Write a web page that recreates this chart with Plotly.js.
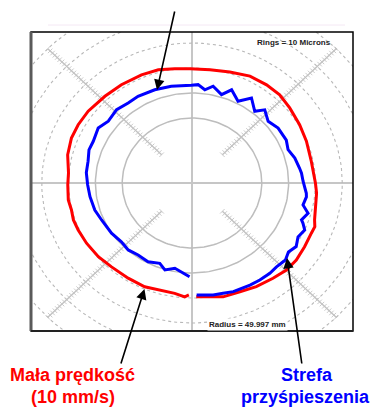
<!DOCTYPE html>
<html><head><meta charset="utf-8">
<script src="https://cdn.plot.ly/plotly-3.0.1.min.js"></script>
<style>html,body{margin:0;padding:0;background:#fff;}#chart{width:377px;height:408px;}</style>
</head><body><div id="chart"></div>
<script>
// Ring radii (microns on the plot scale, rings every 10 microns)
const ringRadii = [26, 36, 46, 56, 66, 76];
const ringDash  = ['solid', 'solid', 'dot', 'dot', 'dot', 'dot'];
// diagonal scale lines
const diagAngles = [45, 135, 225, 315];
const diagStart = 16, diagEnd = 76, diagStep = 1.25;

// Red trace: "Mała prędkość (10 mm/s)" – angle (deg, CCW from +x) and radius
const redAngle  = [-88, -81.6, -75.7, -67.7, -60, -51.6, -44.7, -38.4, -31.3, -24.3, -20.9, -17.9, -8.3, -5, 0, 11.1, 21.4, 30.2, 39.5, 47.2, 54.7, 63.2, 72.4, 81.6, 90.9, 98, 105.5, 113.5, 123.8, 133.1, 143.4, 151.2, 158.2, 166.3, 175, 180.9, 188.4, 193.5, 198.5, 203.9, 211.5, 220.2, 228.2, 238, 247, 255.1, 261.7, 266.6, 268.5];
const redRadius = [45.5, 46.0, 47.0, 47.0, 47.9, 48.6, 49.5, 49.6, 49.1, 48.8, 49.0, 48.0, 46.9, 46.6, 46.0, 45.3, 45.8, 46.4, 47.2, 48.1, 48.1, 47.9, 46.6, 45.8, 45.7, 46.1, 47.0, 47.2, 47.3, 47.5, 48.2, 48.4, 48.4, 47.7, 46.2, 46.3, 46.6, 46.2, 46.6, 46.4, 46.1, 45.7, 45.0, 44.9, 45.1, 44.3, 44.6, 45.6, 44.8];

// Blue trace: "Strefa przyśpieszenia"
const blueAngle  = [-87.8, -84.6, -80, -75.3, -70.5, -66.3, -62.1, -56.9, -51.2, -46.8, -41.5, -37.5, -33.2, -28.6, -24.1, -21.3, -19.9, -15.6, -12, -7.4, -5.5, 1, 5.5, 8.5, 14.6, 20.4, 26, 34.4, 41, 47.2, 50.8, 56.9, 62.3, 68.4, 72.7, 78.5, 82.7, 86.7, 90.4, 101.3, 110.4, 120.1, 126.6, 133.8, 141.6, 147.8, 155.6, 161, 167.3, 174, 181, 188.2, 196.6, 203.7, 213.8, 221.8, 228.4, 235.1, 242.5, 249.5, 253.8, 259.4, 263.6, 268.6];
const blueRadius = [44.8, 45.0, 45.5, 45.6, 46.1, 46.0, 46.2, 46.3, 46.3, 46.0, 46.5, 45.3, 46.4, 45.0, 46.0, 44.4, 43.4, 44.9, 42.3, 43.0, 42.8, 41.4, 41.0, 40.5, 39.6, 38.2, 39.1, 38.9, 37.6, 39.9, 37.0, 40.6, 36.9, 40.1, 37.0, 39.5, 37.6, 39.4, 39.1, 39.5, 39.8, 40.1, 39.9, 40.6, 39.8, 41.3, 40.4, 40.6, 39.7, 39.6, 38.9, 38.4, 37.8, 36.8, 36.1, 35.3, 35.8, 35.1, 35.5, 34.3, 36.2, 34.7, 35.7, 37.5];

const rad = d => d * Math.PI / 180;
const toX = (a, r) => a.map((t, i) => r[i] * Math.cos(rad(t)));
const toY = (a, r) => a.map((t, i) => r[i] * Math.sin(rad(t)));

const traces = [];
// rings
ringRadii.forEach((R, k) => {
  const th = []; for (let t = 0; t <= 360; t += 2) th.push(t);
  const rr = th.map(() => R);
  traces.push({type: 'scatter', mode: 'lines', x: toX(th, rr), y: toY(th, rr), hoverinfo: 'skip',
    line: {color: ringDash[k] === 'solid' ? '#bdbdbd' : '#b8b8b8', width: ringDash[k] === 'solid' ? 1.5 : 1.1, dash: ringDash[k]}});
});
// diagonal scale lines with ticks
diagAngles.forEach(a => {
  const rs = []; for (let r = diagStart; r <= diagEnd + 0.01; r += diagStep) rs.push(r);
  const aa = rs.map(() => a);
  traces.push({type: 'scatter', mode: 'lines+markers', x: toX(aa, rs), y: toY(aa, rs), hoverinfo: 'skip',
    line: {color: '#c2c2c2', width: 1.4},
    marker: {symbol: (a === 45 || a === 225) ? 'line-nw' : 'line-ne', size: 4.5, color: '#c2c2c2', line: {color: '#c4c4c4', width: 0.9}}});
});
traces.push({type: 'scatter', mode: 'lines', x: toX(redAngle, redRadius), y: toY(redAngle, redRadius),
  line: {color: '#ff0000', width: 3}, hoverinfo: 'skip'});
traces.push({type: 'scatter', mode: 'lines', x: toX(blueAngle, blueRadius), y: toY(blueAngle, blueRadius),
  line: {color: '#0000ff', width: 3}, hoverinfo: 'skip'});

const FONT = 'Liberation Sans, Arial, Helvetica, sans-serif';
const px2x = p => (p - 31) / 322;
const py2y = p => (331 - p) / 299;

const layout = {
  width: 377, height: 408,
  margin: {l: 31, r: 24, t: 32, b: 77, pad: 0},
  paper_bgcolor: '#ffffff', plot_bgcolor: '#ffffff',
  showlegend: false,
  xaxis: {range: [-60, 60], showgrid: false, zeroline: true, zerolinecolor: '#c6c6c6', zerolinewidth: 1.5,
          showticklabels: false, ticks: '', showline: false, fixedrange: true},
  yaxis: {range: [-59.2, 60.4], showgrid: false, zeroline: true, zerolinecolor: '#c6c6c6', zerolinewidth: 1.5,
          showticklabels: false, ticks: '', showline: false, fixedrange: true},
  shapes: [
    {type: 'line', xref: 'paper', yref: 'paper', x0: px2x(48), x1: px2x(345), y0: py2y(25), y1: py2y(25), line: {color: '#f4e8f4', width: 1}},
    {type: 'rect', xref: 'paper', yref: 'paper', x0: 0, x1: 1, y0: 0, y1: 1, line: {color: '#000000', width: 1.5}},
    {type: 'line', xref: 'paper', yref: 'paper', x0: 0, x1: 0, y0: 0, y1: 1, line: {color: '#5a5a5a', width: 3}},
    {type: 'line', xref: 'paper', yref: 'paper', x0: 0, x1: 1, y0: 0, y1: 0, line: {color: '#222222', width: 2}}
  ],
  annotations: [
    {xref: 'paper', yref: 'paper', x: px2x(294), y: py2y(42.7), text: '<b>Rings = 10 Microns</b>', showarrow: false,
     font: {family: FONT, size: 8, color: '#222222'}, xanchor: 'center', yanchor: 'middle'},
    {xref: 'paper', yref: 'paper', x: px2x(247), y: py2y(324), text: '<b>Radius = 49.997 mm</b>', showarrow: false,
     font: {family: FONT, size: 8, color: '#222222'}, xanchor: 'center', yanchor: 'middle', bgcolor: '#ffffff'},
    // arrows
    {xref: 'x', yref: 'y', x: (157 - 192) / 2.683, y: (183 - 90) / 2.5, ax: 18, ay: -80, text: '', showarrow: true,
     arrowhead: 2, arrowsize: 1.3, arrowwidth: 1.6, arrowcolor: '#000000'},
    {xref: 'x', yref: 'y', x: (144.5 - 192) / 2.683, y: (183 - 289) / 2.5, ax: -24, ay: 76, text: '', showarrow: true,
     arrowhead: 2, arrowsize: 1.3, arrowwidth: 1.6, arrowcolor: '#000000'},
    {xref: 'x', yref: 'y', x: (287 - 192) / 2.683, y: (183 - 258) / 2.5, ax: 15, ay: 107, text: '', showarrow: true,
     arrowhead: 2, arrowsize: 1.3, arrowwidth: 1.6, arrowcolor: '#000000'},
    // labels
    {xref: 'paper', yref: 'paper', x: px2x(72.7), y: py2y(375.2), text: '<b>Mała prędkość</b>', showarrow: false,
     font: {family: FONT, size: 18, color: '#ff0000'}, xanchor: 'center', yanchor: 'middle'},
    {xref: 'paper', yref: 'paper', x: px2x(72.7), y: py2y(396.5), text: '<b>(10 mm/s)</b>', showarrow: false,
     font: {family: FONT, size: 18, color: '#ff0000'}, xanchor: 'center', yanchor: 'middle'},
    {xref: 'paper', yref: 'paper', x: px2x(307), y: py2y(375.2), text: '<b>Strefa</b>', showarrow: false,
     font: {family: FONT, size: 18, color: '#0000ff'}, xanchor: 'center', yanchor: 'middle'},
    {xref: 'paper', yref: 'paper', x: px2x(305.3), y: py2y(396.5), text: '<b>przyśpieszenia</b>', showarrow: false,
     font: {family: FONT, size: 18, color: '#0000ff'}, xanchor: 'center', yanchor: 'middle'}
  ]
};
Plotly.newPlot('chart', traces, layout, {staticPlot: true, displayModeBar: false});
</script></body></html>
